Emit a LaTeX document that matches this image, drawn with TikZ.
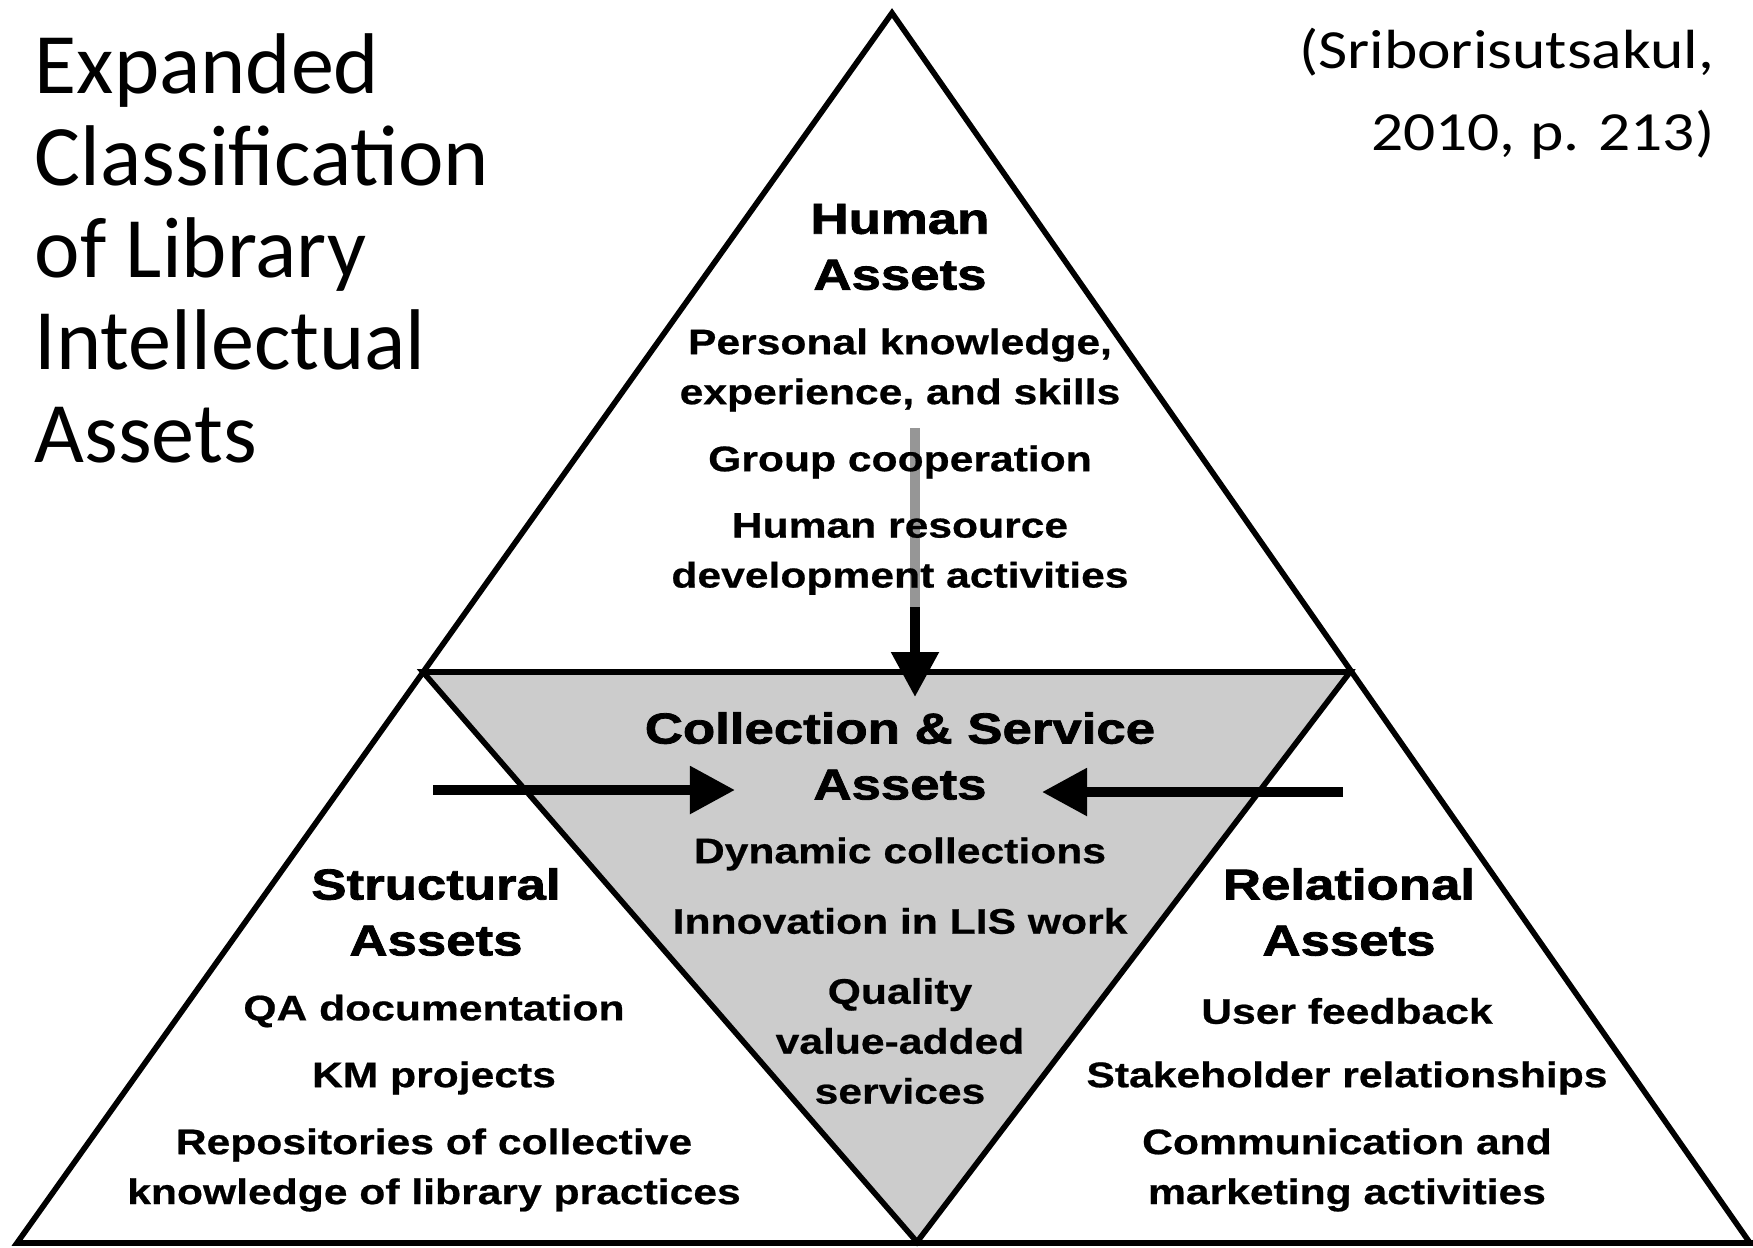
\documentclass[tikz,border=0pt]{standalone}
\usepackage{fontspec}
\setmainfont{Liberation Sans}
\newfontfamily\titlefont{Carlito}
\newfontfamily\citefont[FakeStretch=1.15]{Carlito}
\newfontfamily\headfont[FakeStretch=1.22, FakeBold=1.8]{Liberation Sans Bold}
\newfontfamily\itemfont[FakeStretch=1.2, FakeBold=0.6]{Liberation Sans Bold}
\usetikzlibrary{arrows.meta}
\definecolor{coregray}{RGB}{204,204,204}
\definecolor{fadegray}{RGB}{150,150,150}
\tikzset{
  asset head/.style={
    align=center,
    inner sep=0pt,
    font=\headfont\fontsize{12.3}{15.9}\selectfont
  },
  asset item/.style={
    align=center,
    inner sep=0pt,
    font=\itemfont\fontsize{10.1}{14.2}\selectfont
  },
  tri edge/.style={
    line width=1.6pt
  },
  flow arrow/.style={
    -{Triangle[length=12.8pt,width=13pt]},
    line width=2.7pt
  },
  fade shaft/.style={
    draw=fadegray,
    line width=2.7pt
  }
}

\begin{document}
\begin{tikzpicture}[x=0.01cm, y=-0.01cm]
  \useasboundingbox (0,0) rectangle (1753,1247);

  % Corners of the pyramid
  \coordinate (apex) at (892,13);
  \coordinate (base left) at (17,1243);
  \coordinate (base right) at (1753,1243);
  \coordinate (mid left) at (423,672);
  \coordinate (mid right) at (1350,672);
  \coordinate (core tip) at (917,1242);

  % Outer triangle and grey core
  \draw[tri edge] (base left) -- (apex) -- (1750,1243) -- (base right) -- cycle;
  \draw[tri edge, fill=coregray] (mid left) -- (mid right) -- (core tip) -- cycle;

  % Arrows into the core
  \coordinate (human src) at (915,428);
  \coordinate (human fade) at (915,607);
  \coordinate (human tip) at (915,697);
  \draw[flow arrow] (human src) -- (human tip);
  \draw[fade shaft] (human src) -- (human fade);

  \coordinate (struct src) at (433,790);
  \coordinate (struct tip) at (735,790);
  \draw[flow arrow] (struct src) -- (struct tip);

  \coordinate (rel src) at (1343,792);
  \coordinate (rel tip) at (1042,792);
  \draw[flow arrow] (rel src) -- (rel tip);

  % Title and source
  \node[anchor=north west, inner sep=0pt, align=left,
        font=\titlefont\fontsize{24.5}{26.2}\selectfont] (title) at (34,33)
        {Expanded\\Classification\\of Library\\Intellectual\\Assets};
  \node[anchor=base east, inner sep=0pt,
        font=\citefont\fontsize{15.7}{19.6}\selectfont] (cite a) at (1715,68)
        {(Sriborisutsakul,};
  \node[anchor=base east, inner sep=0pt,
        font=\citefont\fontsize{15.7}{19.6}\selectfont] (cite b) at (1715,150)
        {2010, p. 213)};

  % Human assets
  \node[asset head] (human) at (900,247) {Human\\Assets};
  \node[asset item] (human a) at (900,370) {Personal knowledge,\\experience, and skills};
  \node[asset item] (human b) at (900,462) {Group cooperation};
  \node[asset item] (human c) at (900,554) {Human resource\\development activities};

  % Collection & service assets
  \node[asset head] (core) at (900,756) {Collection \& Service\\Assets};
  \node[asset item] (core a) at (900,854) {Dynamic collections};
  \node[asset item] (core b) at (900,921) {Innovation in LIS work};
  \node[asset item] (core c) at (900,1041) {Quality\\value-added\\services};

  % Structural assets
  \node[asset head] (struct) at (436,912) {Structural\\Assets};
  \node[asset item] (struct a) at (434,1011) {QA documentation};
  \node[asset item] (struct b) at (434,1078) {KM projects};
  \node[asset item] (struct c) at (434,1170) {Repositories of collective\\knowledge of library practices};

  % Relational assets
  \node[asset head] (rel) at (1349,912) {Relational\\Assets};
  \node[asset item] (rel a) at (1347,1011) {User feedback};
  \node[asset item] (rel b) at (1347,1078) {Stakeholder relationships};
  \node[asset item] (rel c) at (1347,1170) {Communication and\\marketing activities};
\end{tikzpicture}
\end{document}
